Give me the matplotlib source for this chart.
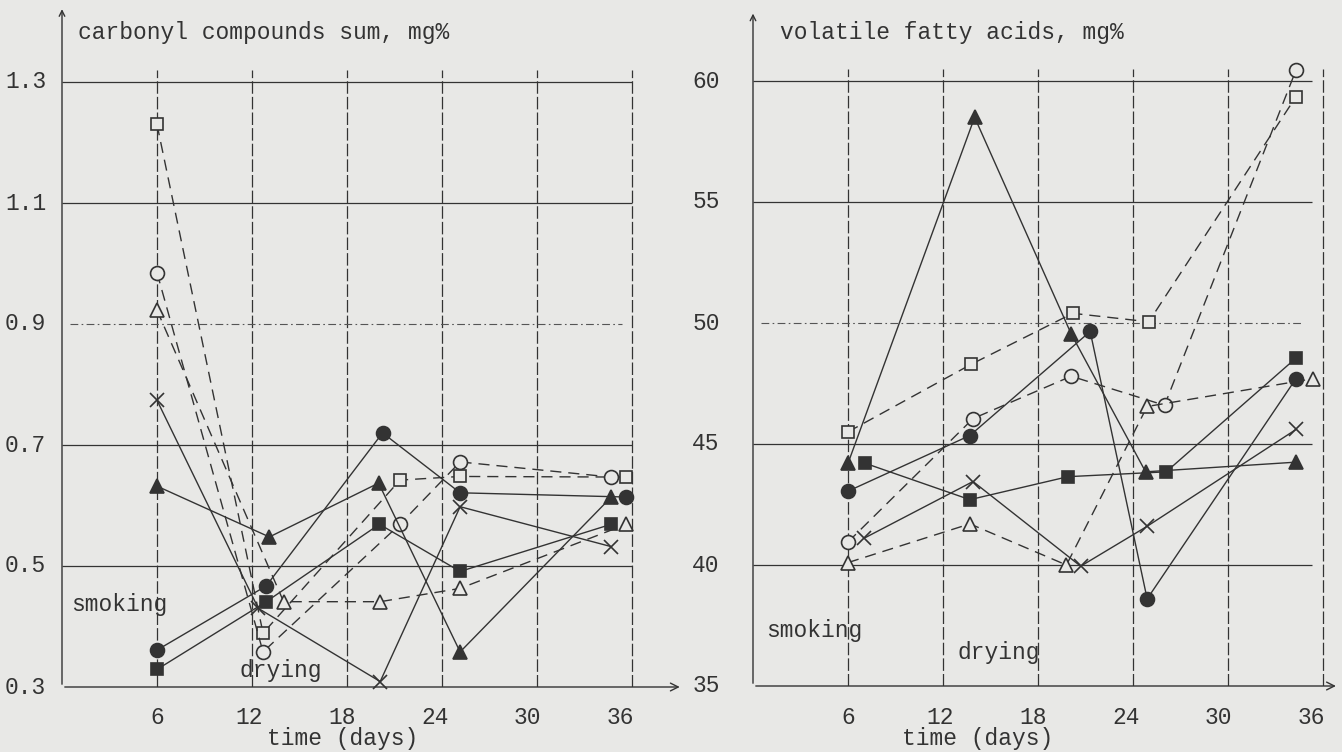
import matplotlib
matplotlib.use("Agg")
import matplotlib.pyplot as plt

BG = "#e8e8e6"
INK = "#333333"
FONT = "Liberation Mono"

# ---- carbonyl compounds (left panel) ----
carb_days = {
    "osq": [6.0, 12.7, 21.35, 25.15, 35.65],
    "ocirc": [6.0, 12.7, 21.35, 25.15, 34.7],
    "otri": [6.0, 14.0, 20.1, 25.15, 35.65],
    "fcirc": [6.0, 12.9, 20.25, 25.15, 35.65],
    "fsq": [6.0, 12.9, 20.05, 25.15, 34.7],
    "ftri": [6.0, 13.1, 20.0, 25.15, 34.7],
    "cross": [6.0, 12.4, 20.1, 25.15, 34.7],
}
carb_vals = {
    "osq": [1.23, 0.389, 0.642, 0.648, 0.647],
    "ocirc": [0.985, 0.358, 0.569, 0.672, 0.647],
    "otri": [0.923, 0.441, 0.441, 0.463, 0.569],
    "fcirc": [0.361, 0.467, 0.72, 0.621, 0.614],
    "fsq": [0.329, 0.441, 0.569, 0.491, 0.569],
    "ftri": [0.632, 0.548, 0.637, 0.358, 0.614],
    "cross": [0.774, 0.43, 0.309, 0.598, 0.532],
}

# ---- volatile fatty acids (right panel) ----
vfa_days = {
    "osq": [6.0, 13.8, 20.2, 25.0, 34.3],
    "ocirc": [6.0, 13.9, 20.1, 26.0, 34.3],
    "otri": [6.0, 13.7, 19.8, 24.9, 35.4],
    "fcirc": [6.0, 13.7, 21.3, 24.9, 34.3],
    "fsq": [7.1, 13.7, 19.9, 26.1, 34.3],
    "ftri": [6.0, 14.0, 20.1, 24.8, 34.3],
    "cross": [7.0, 13.9, 20.7, 24.9, 34.3],
}
vfa_vals = {
    "osq": [45.5, 48.3, 50.4, 50.05, 59.35],
    "ocirc": [40.95, 46.05, 47.8, 46.6, 60.45],
    "otri": [40.1, 41.7, 40.0, 46.55, 47.7],
    "fcirc": [43.05, 45.35, 49.65, 38.6, 47.7],
    "fsq": [44.2, 42.7, 43.65, 43.85, 48.55],
    "ftri": [44.2, 58.5, 49.55, 43.85, 44.25],
    "cross": [41.1, 43.45, 39.95, 41.6, 45.6],
}

day_ticks = [6, 12, 18, 24, 30, 36]
carb_yticks = [0.3, 0.5, 0.7, 0.9, 1.1, 1.3]
vfa_yticks = [35, 40, 45, 50, 55, 60]

styles = {
    "osq": dict(marker="s", mfc=BG, ls=(0, (8, 5))),
    "ocirc": dict(marker="o", mfc=BG, ls=(0, (8, 5))),
    "otri": dict(marker="^", mfc=BG, ls=(0, (8, 5))),
    "fcirc": dict(marker="o", mfc=INK, ls="-"),
    "fsq": dict(marker="s", mfc=INK, ls="-"),
    "ftri": dict(marker="^", mfc=INK, ls="-"),
    "cross": dict(marker="x", mfc=INK, ls="-"),
}

W, H = 1342, 752
fig = plt.figure(figsize=(W / 100, H / 100), dpi=100)
fig.patch.set_facecolor(BG)


def make_axes(x0_px, px_day, xmax, y0_px, px_unit, ymin, ymax):
    left = x0_px / W
    bottom = (H - y0_px) / H
    ax = fig.add_axes([left, bottom, xmax * px_day / W, (ymax - ymin) * px_unit / H])
    ax.set_xlim(0, xmax)
    ax.set_ylim(ymin, ymax)
    ax.set_facecolor("none")
    for s in ax.spines.values():
        s.set_visible(False)
    ax.set_xticks([])
    ax.set_yticks([])
    return ax


txt = dict(fontfamily=FONT, fontsize=16.5, color=INK)


def panel(ax, days, vals, yticks, grid_top, hline_end, dashdot_y, arrow_x, arrow_y,
          ylab_x, xlab_y, title, title_xy, smoke_xy, dry_xy, time_x, time_y):
    y0 = yticks[0]
    ax.vlines(day_ticks, y0, grid_top, colors=INK, lw=0.9, linestyles=(0, (10, 2.5)))
    solid = [y for y in yticks[1:] if y != dashdot_y]
    ax.hlines(solid, 0, hline_end, colors=INK, lw=0.9)
    ax.hlines([dashdot_y], 0.5, hline_end - 0.6, colors="#555555", lw=0.8,
              linestyles=(0, (7, 3, 1.5, 3)))
    ax.annotate("", xy=(arrow_x, y0), xytext=(0, y0), annotation_clip=False,
                arrowprops=dict(arrowstyle="->", lw=1.0, color=INK, mutation_scale=14))
    ax.annotate("", xy=(0, arrow_y), xytext=(0, y0), annotation_clip=False,
                arrowprops=dict(arrowstyle="->", lw=1.0, color=INK, mutation_scale=10))
    for k in days:
        st = styles[k]
        ax.plot(days[k], vals[k], color=INK, lw=1.0, ls=st["ls"], marker=st["marker"],
                ms=10 if st["marker"] != "s" else 9, mfc=st["mfc"], mec=INK,
                mew=1.2, dash_capstyle="butt", clip_on=False, zorder=3)
    for y in yticks:
        lab = str(y) if isinstance(y, int) else f"{y:.1f}"
        ax.text(ylab_x, y, lab, ha="right", va="center", clip_on=False, **txt)
    for i, d in enumerate(day_ticks):
        ax.text(d - 0.15 * i, xlab_y, str(d), ha="center", va="center", clip_on=False, **txt)
    ax.text(time_x, time_y, "time (days)", ha="center", va="center", clip_on=False, **txt)
    ax.text(title_xy[0], title_xy[1], title, ha="left", va="center", **txt)
    ax.text(smoke_xy[0], smoke_xy[1], "smoking", ha="left", va="center", **txt)
    ax.text(dry_xy[0], dry_xy[1], "drying", ha="left", va="center", **txt)


# left: day 0 at x=62 px, 15.83 px/day; 0.3 at y=687 px, 605 px per unit
axL = make_axes(62, 15.83, 39.4, 687, 605, 0.3, 1.43)
panel(axL, carb_days, carb_vals, carb_yticks, 1.32, 36.0, 0.9, 39.2, 1.425,
      -1.0, 0.3 - 30 / 605, "carbonyl compounds sum, mg%", (1.0, 1.43 - 29 / 605),
      (0.6, 0.436), (11.2, 0.328), 17.7, 0.3 - 51 / 605)

# right: day 0 at x=753 px; 35 at y=686 px, 24.2 px per unit
axR = make_axes(753, 15.83, 37.2, 686, 24.2, 35, 63)
panel(axR, vfa_days, vfa_vals, vfa_yticks, 60.5, 35.3, 50, 37.0, 62.9,
      -2.1, 35 - 31 / 24.2, "volatile fatty acids, mg%", (1.7, 63 - 24 / 24.2),
      (0.8, 37.3), (12.9, 36.4), 14.2, 35 - 52 / 24.2)

fig.savefig("out.png", dpi=100, facecolor=BG)
